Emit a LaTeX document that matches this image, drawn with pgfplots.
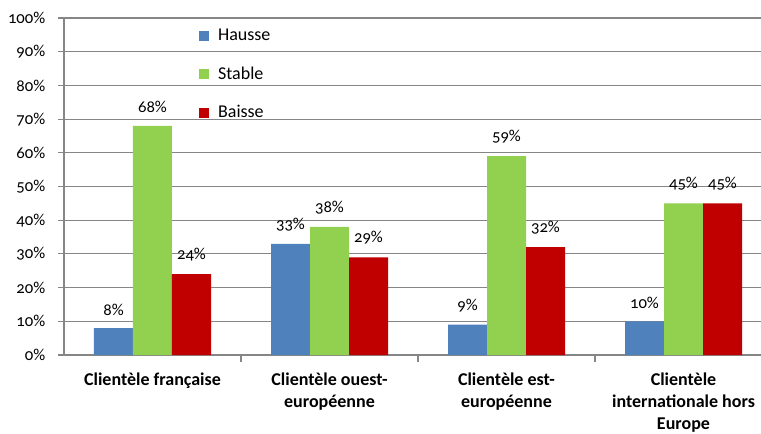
\documentclass[border=0pt]{standalone}
\usepackage{pgfplots}
\pgfplotsset{compat=1.18}
\usepackage{fontspec}
\setmainfont{Carlito}[Numbers=OldStyle]
\definecolor{cblue}{HTML}{4F81BD}
\definecolor{cgreen}{HTML}{92D050}
\definecolor{cred}{HTML}{C00000}
\definecolor{cgrid}{HTML}{868686}
\begin{document}
\begin{tikzpicture}
\begin{axis}[
  at={(0,0)}, anchor=south west,
  scale only axis,
  width=531pt, height=252.75pt,
  xmin=-0.5, xmax=3.5,
  ymin=0, ymax=100,
  ybar=0pt, bar width=29.25pt,
  /pgf/number format/assume math mode=true,
  axis x line*=bottom, axis y line*=left,
  axis line style={cgrid, line width=0.8pt, -},
  xtick={0,1,2,3},
  xticklabels={{Clientèle française},{Clientèle ouest-\\européenne},{Clientèle est-\\européenne},{Clientèle\\internationale hors\\Europe}},
  xticklabel style={font=\bfseries\fontsize{13.5}{16.5}\selectfont, align=center, yshift=-5pt},
  major x tick style={draw=none},
  minor xtick={0.5,1.5,2.5},
  minor x tick style={cgrid, line width=0.8pt},
  minor tick length=5pt,
  tick align=outside,
  ytick={0,10,...,100},
  yticklabels={0\%,10\%,20\%,30\%,40\%,50\%,60\%,70\%,80\%,90\%,100\%},
  yticklabel style={font=\fontsize{12.5}{14}\selectfont, xshift=-6pt},
  major y tick style={cgrid, line width=0.8pt},
  major tick length=4.5pt,
  ymajorgrids,
  grid style={cgrid, line width=0.8pt},
  nodes near coords={\pgfmathprintnumber{\pgfplotspointmeta}\%},
  every node near coord/.append style={font=\fontsize{12.5}{14}\selectfont, black, yshift=6pt},
  legend style={at={(0.19,0.975)}, anchor=north west, draw=none, fill=none,
    font=\fontsize{13.5}{15}\selectfont, row sep=14pt, inner sep=0pt,
    legend cell align=left,
    nodes={inner xsep=7pt}},
  legend image code/.code={\fill[#1] (0pt,-3.75pt) rectangle (7.5pt,3.75pt);},
]
\addplot[fill=cblue, draw=none] coordinates {(0,8) (1,33) (2,9) (3,10)};
\addplot[fill=cgreen, draw=none] coordinates {(0,68) (1,38) (2,59) (3,45)};
\addplot[fill=cred, draw=none] coordinates {(0,24) (1,29) (2,32) (3,45)};
\legend{Hausse,Stable,Baisse}
\end{axis}
\pgfresetboundingbox
\useasboundingbox (-48pt,-58.5pt) rectangle (522.75pt,266.25pt);
\end{tikzpicture}
\end{document}
